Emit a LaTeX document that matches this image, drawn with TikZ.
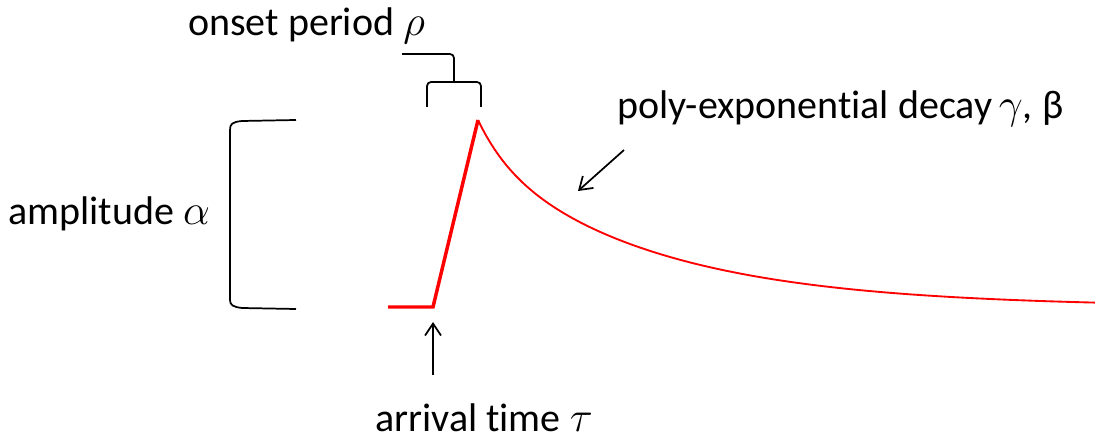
\documentclass[tikz,border=0pt]{standalone}
\usepackage{fix-cm}
\usepackage{fontspec}
\setmainfont{Carlito}[Ligatures={TeX,NoCommon}]
\usetikzlibrary{arrows.meta,positioning}
\definecolor{pulse}{HTML}{FF0000}
\newcommand{\gk}[1]{{\fontsize{32}{38}\selectfont$#1$}}

\begin{document}
\begin{tikzpicture}[x=0.75pt,y=-0.75pt,font=\fontsize{30}{36}\selectfont,
    lbl/.style={inner sep=0pt,anchor=base west},
    pointer/.style={line width=1.3pt,-{Straight Barb[length=9pt,width=12pt,line width=1.3pt]}},
    brace/.style={line width=1.3pt,rounded corners=3pt},
    onset/.style={pulse,line width=2.6pt,line join=miter},
    decay/.style={pulse,line width=1.4pt}]
  \useasboundingbox (0,0) rectangle (1095,441);
  % labels
  \node[lbl] (lblOnset) at (188,36) {onset period \gk{\rho}};
  \node[lbl] (lblAmp) at (8,225) {amplitude \gk{\alpha}};
  \node[lbl] (lblArrival) at (375,431) {arrival time \gk{\tau}};
  \node[lbl] (lblDecay) at (617,119) {poly-exponential decay\,\gk{\gamma}, β};
  % key points of the pulse
  \coordinate (base) at (388,307);
  \coordinate (arrive) at (433,307);
  \coordinate (peak) at (478,120);
  % pulse
  \draw[onset] (base) -- (arrive) -- (peak);
  \draw[decay] plot[domain=0:617,samples=150]
    ({478+\x},{307-187*(0.2*exp(-\x/30)+0.8*exp(-\x/175))});
  % onset bracket
  \draw[brace] (427,107) -- (427,82) -- (481,82) -- (481,107);
  \draw[brace] (402,54) -- (454,54) -- (454,82);
  % amplitude bracket
  \draw[line width=1.3pt] (296,120) -- (242,121) .. controls (232,122) and (230,124) .. (230,130)
    -- (230,300) .. controls (230,305) and (233,307) .. (242,308) -- (296,309);
  % pointers
  \coordinate (arrTail) at (433,375);
  \coordinate (arrHead) at (433,322);
  \draw[pointer] (arrTail) -- (arrHead);
  \coordinate (decTail) at (624,150);
  \coordinate (decHead) at (578,191);
  \draw[pointer] (decTail) -- (decHead);
\end{tikzpicture}
\end{document}
